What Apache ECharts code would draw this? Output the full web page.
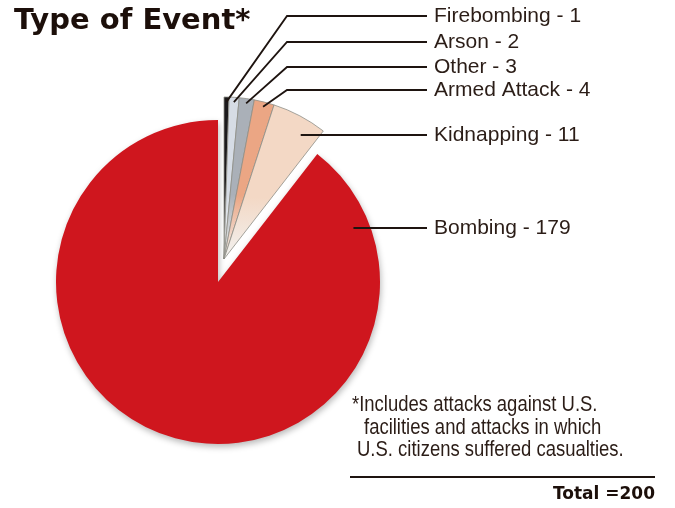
<!DOCTYPE html>
<html>
<head>
<meta charset="utf-8">
<script src="https://cdn.jsdelivr.net/npm/echarts@6/dist/echarts.min.js"></script>
<style>
  html, body { margin: 0; padding: 0; background: #ffffff; }
  #chart { width: 675px; height: 508px; }
</style>
</head>
<body>
<div id="chart"></div>
<script>
// Event types and their counts (clockwise from 12 o'clock)
const categories = ['Firebombing', 'Arson', 'Other', 'Armed Attack', 'Kidnapping', 'Bombing'];
const counts = [1, 2, 3, 4, 11, 179];
const totalLabel = 'Total =200';
const footnoteLines = [
  '*Includes attacks against U.S.',
  'facilities and attacks in which',
  'U.S. citizens suffered casualties.'
];
const sliceColors = ['#1c1a1c', '#d6dce5', '#aab0b8', '#eba684', '#f3d8c5', '#cf161e'];
// the small categories are pulled out of the pie as one group
const isMinor = [true, true, true, true, true, false];

// layout
const R = 162;
const mainCenter = [218, 282];
const minorCenter = [224, 259];
const labelRowY = [16, 42, 67, 90, 135, 228];
const labelX = 434;
const lineEndX = 427;
const elbowX = 287;
const footnotePos = [[352, 405], [364, 428], [357, 450]];

const sum = counts.reduce((a, b) => a + b, 0);
let acc = 0;
const sliceAngles = counts.map(v => {
  const a0 = acc / sum * 360;
  acc += v;
  return [a0, acc / sum * 360];
});

function polar(c, r, deg) {
  const t = deg * Math.PI / 180;
  return [c[0] + r * Math.sin(t), c[1] - r * Math.cos(t)];
}

// leader line from inside a slice to its label row
function leader(i) {
  const c = isMinor[i] ? minorCenter : mainCenter;
  const [a0, a1] = sliceAngles[i];
  const ly = labelRowY[i];
  const crossesTop = a0 <= 0 || a1 >= 360;
  const topY = crossesTop ? c[1] - R
    : c[1] - R * Math.max(Math.cos(a0 * Math.PI / 180), Math.cos(a1 * Math.PI / 180));
  if (ly < topY) {
    const tip = polar(c, R * 0.97, (a0 + a1) / 2);
    return [tip, [elbowX, ly], [lineEndX, ly]];
  }
  const r = R * 0.9;
  const ang = Math.acos((c[1] - ly) / r) * 180 / Math.PI;
  const s = polar(c, r, ang);
  return [s, [(s[0] + lineEndX) / 2, ly], [lineEndX, ly]];
}

function fillFor(i) {
  if (!isMinor[i]) return sliceColors[i];
  return {
    type: 'linear', x: 0, y: 0, x2: 0, y2: 1,
    colorStops: [
      { offset: 0, color: sliceColors[i] },
      { offset: 0.6, color: sliceColors[i] },
      { offset: 1, color: '#f2f2f0' }
    ]
  };
}

const hidden = 'rgba(0,0,0,0)';

// filled wedges only; one series for the main slice, one for the pulled-out group
function fillSeries(minorPart, center, z) {
  return {
    type: 'pie',
    z: z,
    center: center,
    radius: R,
    startAngle: 90,
    clockwise: true,
    silent: true,
    animation: false,
    label: { show: false },
    labelLine: { show: false },
    data: categories.map((name, i) => {
      const mine = isMinor[i] === minorPart;
      const style = mine
        ? (isMinor[i]
            ? { color: fillFor(i), borderColor: '#8e8e86', borderWidth: 0.8 }
            : { color: fillFor(i), shadowBlur: 6, shadowColor: 'rgba(0,0,0,0.28)', shadowOffsetY: 3, shadowOffsetX: 1 })
        : { color: hidden, borderWidth: 0 };
      return { name: name, value: counts[i], itemStyle: style };
    })
  };
}

// labels and leader lines, drawn above the wedges
const labelSeries = {
  type: 'pie',
  z: 5,
  center: mainCenter,
  radius: R,
  startAngle: 90,
  clockwise: true,
  avoidLabelOverlap: false,
  silent: true,
  animation: false,
  itemStyle: { color: hidden, borderWidth: 0 },
  label: {
    show: true,
    position: 'outside',
    formatter: '{b} - {c}',
    fontFamily: '"Liberation Sans", Arial, sans-serif',
    fontSize: 21,
    color: '#2b1d17'
  },
  labelLine: { show: true, smooth: false, lineStyle: { color: '#1e1410', width: 1.8 } },
  labelLayout: function (params) {
    const i = params.dataIndex;
    return {
      x: labelX,
      y: labelRowY[i],
      align: 'left',
      verticalAlign: 'middle',
      labelLinePoints: leader(i)
    };
  },
  data: categories.map((name, i) => ({ name: name, value: counts[i] }))
};

const footFont = '22px "Liberation Sans", Arial, sans-serif';

const chart = echarts.init(document.getElementById('chart'), null, { renderer: 'canvas' });
chart.setOption({
  backgroundColor: '#ffffff',
  animation: false,
  series: [
    fillSeries(false, mainCenter, 1),
    fillSeries(true, minorCenter, 2),
    labelSeries
  ],
  graphic: [
    {
      type: 'text', x: 14, y: 21,
      style: { text: 'Type of Event*', font: 'bold 29px "DejaVu Sans", sans-serif', fill: '#1c0f0a', verticalAlign: 'middle' }
    }
  ].concat(footnoteLines.map((t, k) => ({
    type: 'text', x: footnotePos[k][0], y: footnotePos[k][1], scaleX: 0.84,
    style: { text: t, font: footFont, fill: '#2b1d17', verticalAlign: 'middle' }
  }))).concat([
    {
      type: 'line',
      shape: { x1: 350, y1: 477, x2: 655, y2: 477 },
      style: { stroke: '#1e1410', lineWidth: 2.2 }
    },
    {
      type: 'text', x: 655, y: 495,
      style: { text: totalLabel, font: 'bold 17px "DejaVu Sans", sans-serif', fill: '#1c0f0a', align: 'right', verticalAlign: 'middle' }
    }
  ])
});
</script>
</body>
</html>
